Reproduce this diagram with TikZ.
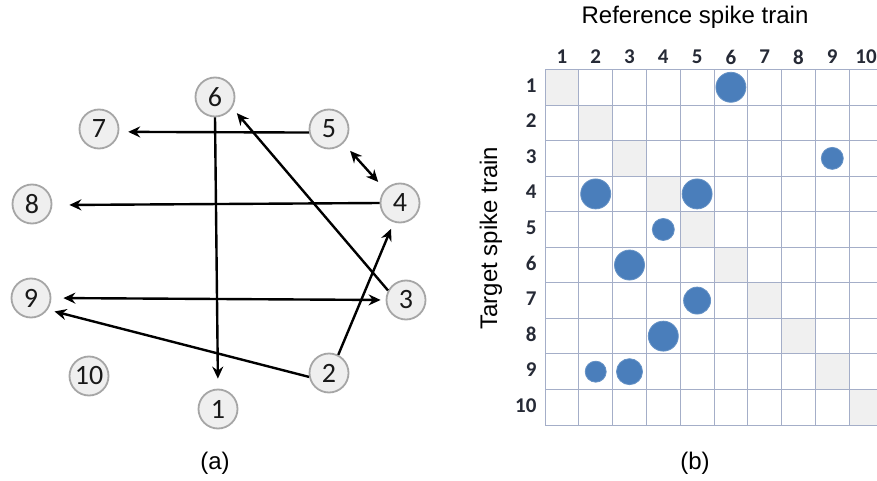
\documentclass[tikz,border=0pt]{standalone}
\usepackage{fontspec}
\setmainfont{Liberation Sans}
\newfontfamily\carlito{Carlito}
\usetikzlibrary{arrows.meta}
\definecolor{nodefill}{HTML}{EFEFEF}
\definecolor{nodeline}{HTML}{A6A6A6}
\definecolor{gridline}{HTML}{A4AEC8}
\definecolor{diagcell}{HTML}{F0F0F0}
\definecolor{spike}{HTML}{4A7EBB}
\definecolor{labeltext}{HTML}{262A36}
\tikzset{
  neuron/.style={circle, draw=nodeline, fill=nodefill, line width=1.8pt, minimum size=39pt, inner sep=0pt, font=\carlito\fontsize{28}{28}\selectfont, text=black!90},
  link/.style={line width=2.4pt, -{Stealth[length=12pt,width=11pt,inset=4pt]}},
  blink/.style={line width=2.4pt, {Stealth[length=12pt,width=11pt,inset=4pt]}-{Stealth[length=12pt,width=11pt,inset=4pt]}},
  glabel/.style={font=\carlito\bfseries\fontsize{21}{21}\selectfont, text=labeltext},
  bigtext/.style={font=\fontsize{24}{24}\selectfont},
  spikedot/.style={fill=spike, draw=spike!85!white, line width=0.8pt},
  gridstroke/.style={draw=gridline, line width=1pt}
}
\begin{document}
\begin{tikzpicture}[x=1pt,y=-1pt]
\fill[white] (0,0) rectangle (877,481);
\useasboundingbox (0,0) rectangle (877,481);
% ---------- (a) graph ----------
\node[neuron] (n6) at (215,97) {6};
\node[neuron] (n7) at (99,129) {7};
\node[neuron] (n5) at (329,129) {5};
\node[neuron] (n8) at (32,204) {8};
\node[neuron] (n4) at (400,203) {4};
\node[neuron] (n9) at (31,298) {9};
\node[neuron] (n3) at (406,300) {3};
\node[neuron] (n10) at (89,376) {10};
\node[neuron] (n2) at (329,373) {2};
\node[neuron] (n1) at (218,409) {1};

\draw[link, shorten >=9pt] (n5.190) -- (n7.-8);
\draw[link, shorten >=10pt] (n6.-90) -- (n1.90);
\draw[blink, shorten >=10pt, shorten <=10pt] (n5.-45) -- (n4.138);
\draw[link, shorten >=17pt] (n4.180) -- (n8.-3);
\draw[link, shorten >=7pt] (n3.152) -- (n6.-32);
\draw[blink, shorten >=12pt, shorten <=5pt] (n3.180) -- (n9.0);
\draw[link, shorten >=7pt] (n2.63) -- (n4.252);
\draw[link, shorten >=7pt] (n2.191) -- (n9.-35);

\node[bigtext] (capa) at (215,463) {(a)};

% ---------- (b) matrix ----------
\node[bigtext] (title) at (695,17) {Reference spike train};
\node[bigtext, rotate=90] (ylab) at (491,238) {Target spike train};
\node[bigtext] (capb) at (695,463) {(b)};

\begin{scope}
\clip (0,0) rectangle (877,481);
\foreach \i in {1,...,10} {
  \fill[diagcell] ({545+33.8*(\i-1)},{69.5+35.55*(\i-1)}) rectangle ++(33.8,35.55);
}
\foreach \k in {0,...,10} {
  \draw[gridstroke] ({545+33.8*\k},69.5) -- ++(0,355.5);
  \draw[gridstroke] (545,{69.5+35.55*\k}) -- ++(338,0);
}
\foreach \c/\r/\rad in {6/1/15, 9/3/11, 2/4/15, 5/4/15, 4/5/11, 3/6/15, 5/7/13.5, 4/8/15, 2/9/10.5, 3/9/13} {
  \path[spikedot] ({545+33.8*(\c-0.5)},{69.5+35.55*(\r-0.5)}) circle (\rad);
}
\foreach \i in {1,...,10} {
  \node[glabel] (col\i) at ({545+33.8*(\i-0.5)},57) {\i};
  \node[glabel, anchor=east] (row\i) at (540,{69.5+35.55*(\i-0.5)-2}) {\i};
}
\end{scope}
\end{tikzpicture}
\end{document}
